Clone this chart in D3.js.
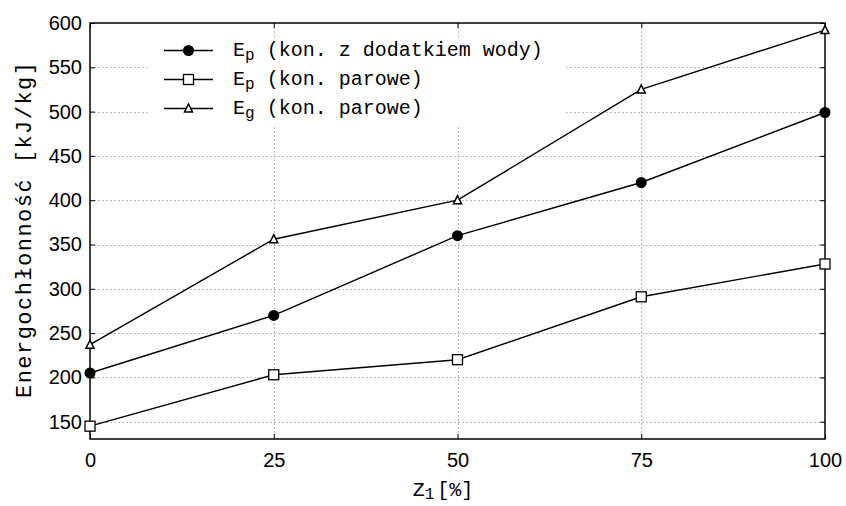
<!DOCTYPE html>
<html><head><meta charset="utf-8">
<script src="https://cdn.jsdelivr.net/npm/d3@7/dist/d3.min.js"></script>
<style>body{margin:0;background:#fff}</style>
</head><body><svg id="c" width="846" height="506"></svg>
<script>
const xValues = [0, 25, 50, 75, 100];
const epWater = [205, 270, 360, 420, 499];
const epSteam = [145, 203, 220, 291, 328];
const egSteam = [237, 356, 400, 525, 592];
const xTicks = [0, 25, 50, 75, 100];
const yTicks = [150, 200, 250, 300, 350, 400, 450, 500, 550, 600];
const seriesNames = [["E","p"," (kon. z dodatkiem wody)"],["E","p"," (kon. parowe)"],["E","g"," (kon. parowe)"]];

const svg = d3.select("#c");
const L = 90, R = 825, T = 23, B = 439;
const x = d3.scaleLinear().domain([0, 100]).range([L, R]);
const y = d3.scaleLinear().domain([130.5, 600]).range([B, T]);
const mono = "'Liberation Mono','DejaVu Sans Mono',monospace";
const sans = "'Liberation Sans',Arial,sans-serif";

// grid
const g = svg.append("g");
g.selectAll(".gx").data(xTicks.slice(1, -1)).join("line")
  .attr("x1", d => Math.round(x(d)) + 0.5).attr("x2", d => Math.round(x(d)) + 0.5).attr("y1", T).attr("y2", B)
  .attr("stroke", "#bbb").attr("stroke-dasharray", "2,2").attr("stroke-width", 1);
g.selectAll(".gy").data(yTicks.slice(0, -1)).join("line")
  .attr("x1", L).attr("x2", R).attr("y1", d => Math.round(y(d)) + 0.5).attr("y2", d => Math.round(y(d)) + 0.5)
  .attr("stroke", "#bbb").attr("stroke-dasharray", "2,2").attr("stroke-width", 1);

// legend background
svg.append("rect").attr("x", 150).attr("y", 38).attr("width", 415).attr("height", 88).attr("fill", "#fff");

// axes
const ax = svg.append("g");
ax.append("g").attr("transform", `translate(0,${B})`)
  .call(d3.axisBottom(x).tickValues(xTicks).tickSize(-5).tickPadding(14))
  .call(s => s.select(".domain").remove())
  .selectAll("text").attr("font-size", 20).attr("fill", "#000").attr("font-family", sans);
ax.append("g").attr("transform", `translate(0,${T})`)
  .call(d3.axisTop(x).tickValues(xTicks).tickSize(-5).tickFormat(""))
  .call(s => s.select(".domain").remove());
ax.append("g").attr("transform", `translate(${L},0)`)
  .call(d3.axisLeft(y).tickValues(yTicks).tickSize(-5).tickPadding(8))
  .call(s => s.select(".domain").remove())
  .selectAll("text").attr("font-size", 20).attr("fill", "#000").attr("font-family", sans);
ax.append("g").attr("transform", `translate(${R},0)`)
  .call(d3.axisRight(y).tickValues(yTicks).tickSize(-5).tickFormat(""))
  .call(s => s.select(".domain").remove());
svg.append("rect").attr("x", L).attr("y", T).attr("width", R - L).attr("height", B - T)
  .attr("fill", "none").attr("stroke", "#000").attr("stroke-width", 1.5);

// lines
const line = d3.line().x((d, i) => x(xValues[i])).y(d => y(d));
const data = [epWater, epSteam, egSteam];
const plot = svg.append("g");
data.forEach(s => plot.append("path").attr("d", line(s)).attr("fill", "none").attr("stroke", "#000").attr("stroke-width", 1.4));

function marker(sel, type, cx, cy) {
  if (type === 0) sel.append("circle").attr("cx", cx).attr("cy", cy).attr("r", 5.5).attr("fill", "#000");
  else if (type === 1) sel.append("rect").attr("x", cx - 5).attr("y", cy - 5).attr("width", 10).attr("height", 10).attr("fill", "#fff").attr("stroke", "#000").attr("stroke-width", 1.3);
  else sel.append("path").attr("d", `M${cx},${cy - 4.5}L${cx + 4},${cy + 3.5}L${cx - 4},${cy + 3.5}Z`).attr("fill", "#fff").attr("stroke", "#000").attr("stroke-width", 1.5);
}
data.forEach((s, k) => s.forEach((v, i) => marker(plot, k, x(xValues[i]), y(v))));

// legend
const leg = svg.append("g");
seriesNames.forEach((n, k) => {
  const ly = 50.5 + k * 29;
  leg.append("line").attr("x1", 164).attr("x2", 213).attr("y1", ly).attr("y2", ly).attr("stroke", "#000").attr("stroke-width", 1.4);
  marker(leg, k, 188.5, ly);
  const t = leg.append("text").attr("x", 233).attr("y", ly + 5).attr("font-family", mono).attr("font-size", 20).attr("fill", "#000");
  t.append("tspan").text(n[0]);
  t.append("tspan").attr("dy", 4).attr("font-size", 16).text(n[1]);
  t.append("tspan").attr("dy", -4).text(n[2]);
});

// axis titles
const xl = svg.append("text").attr("x", 443).attr("y", 496).attr("text-anchor", "middle").attr("font-family", mono).attr("font-size", 20).attr("fill", "#000");
xl.append("tspan").text("Z");
xl.append("tspan").attr("dy", 3).attr("font-size", 16).text("1");
xl.append("tspan").attr("dy", -3).attr("dx", 3).text("[%]");
svg.append("text").attr("transform", "translate(31,230) rotate(-90)").attr("text-anchor", "middle")
  .attr("font-family", mono).attr("font-size", 22).attr("textLength", 336).attr("lengthAdjust", "spacing")
  .attr("fill", "#000").text("Energochłonność [kJ/kg]");
</script></body></html>
